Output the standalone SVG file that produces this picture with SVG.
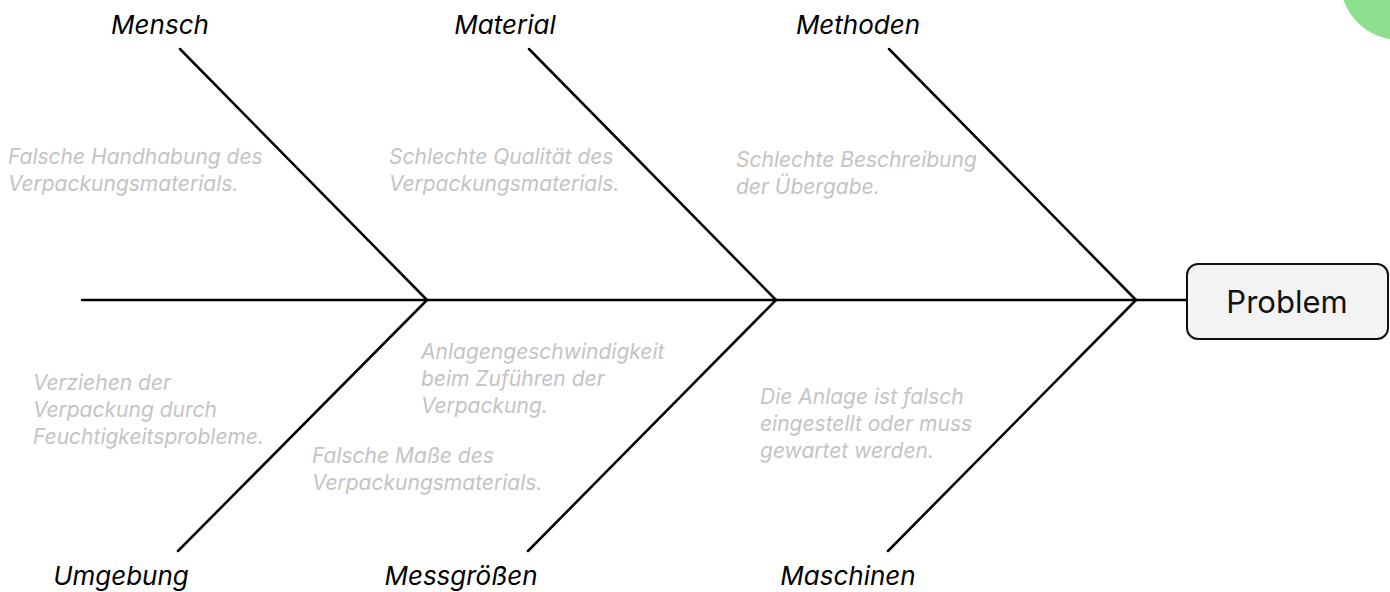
<svg xmlns="http://www.w3.org/2000/svg" width="1390" height="592" viewBox="0 0 1390 592">
<style>
.bone{stroke:#000;stroke-width:2.5;fill:none;stroke-linecap:round}
.cat{font-family:Inter,"Liberation Sans",sans-serif;font-style:italic;font-size:26px;fill:#000;text-anchor:middle}
.note{font-family:Inter,"Liberation Sans",sans-serif;font-style:italic;font-size:21px;fill:#c4c4c4}
.box{fill:#f3f3f3;stroke:#111;stroke-width:2}
.boxtext{font-family:Inter,"Liberation Sans",sans-serif;font-size:31px;fill:#111;text-anchor:middle}
</style>
<rect width="1390" height="592" fill="#fff"/>
<circle cx="1400" cy="-20" r="60" fill="#8ee090"/>
<g id="connectors">
<line class="bone" x1="82" y1="300" x2="1187" y2="300"/>
<line class="bone" x1="180" y1="49" x2="427" y2="300"/>
<line class="bone" x1="529" y1="49" x2="776" y2="300"/>
<line class="bone" x1="889" y1="49" x2="1136" y2="300"/>
<line class="bone" x1="178" y1="551" x2="427" y2="300"/>
<line class="bone" x1="528" y1="551" x2="776" y2="300"/>
<line class="bone" x1="888" y1="551" x2="1136" y2="300"/>
</g>
<g id="problem">
<rect class="box" x="1187" y="264" width="201" height="75" rx="11"/>
<text class="boxtext" x="1287" y="313">Problem</text>
</g>
<g id="mensch">
<text class="cat" x="160" y="34">Mensch</text>
<text class="note" x="8" y="164">Falsche Handhabung des</text>
<text class="note" x="8" y="191">Verpackungsmaterials.</text>
</g>
<g id="material">
<text class="cat" x="505" y="34">Material</text>
<text class="note" x="389" y="164">Schlechte Qualität des</text>
<text class="note" x="389" y="191">Verpackungsmaterials.</text>
</g>
<g id="methoden">
<text class="cat" x="858" y="34">Methoden</text>
<text class="note" x="736" y="167">Schlechte Beschreibung</text>
<text class="note" x="736" y="194">der Übergabe.</text>
</g>
<g id="umgebung">
<text class="cat" x="121" y="585">Umgebung</text>
<text class="note" x="33" y="390">Verziehen der</text>
<text class="note" x="33" y="417">Verpackung durch</text>
<text class="note" x="33" y="444">Feuchtigkeitsprobleme.</text>
</g>
<g id="messgroessen">
<text class="cat" x="461" y="585">Messgrößen</text>
<text class="note" x="421" y="359">Anlagengeschwindigkeit</text>
<text class="note" x="421" y="386">beim Zuführen der</text>
<text class="note" x="421" y="413">Verpackung.</text>
<text class="note" x="312" y="463">Falsche Maße des</text>
<text class="note" x="312" y="490">Verpackungsmaterials.</text>
</g>
<g id="maschinen">
<text class="cat" x="848" y="585">Maschinen</text>
<text class="note" x="760" y="404">Die Anlage ist falsch</text>
<text class="note" x="760" y="431">eingestellt oder muss</text>
<text class="note" x="760" y="458">gewartet werden.</text>
</g>
</svg>
